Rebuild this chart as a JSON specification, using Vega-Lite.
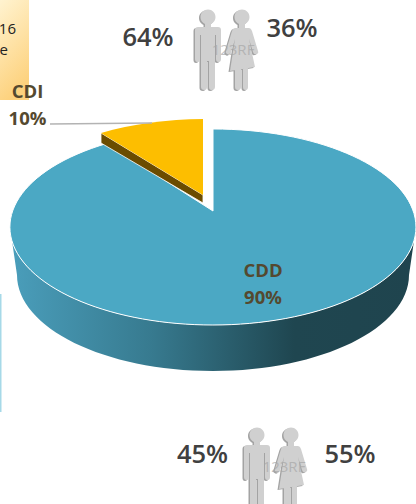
{
"$schema":"https://vega.github.io/schema/vega-lite/v6.json",
"width":416,"height":504,"padding":0,"autosize":{"type":"none"},"background":"white",
"config":{"view":{"stroke":null},"axis":{"disable":true},"text":{"font":"Open Sans"}},
"datasets":{
"slices":[{"name":"CDD","value":90,"share":"90%"},{"name":"CDI","value":10,"share":"10%"}],
"people":[
{"group":"top","sex":"male","value":64,"share":"64%"},
{"group":"top","sex":"female","value":36,"share":"36%"},
{"group":"bottom","sex":"male","value":45,"share":"45%"},
{"group":"bottom","sex":"female","value":55,"share":"55%"}],
"marks":[{"group":"top","text":"123RF"},{"group":"bottom","text":"123RF"}],
"boxes":[{"item":"panel"},{"item":"bar"}],
"clipped":[{"item":"line1","text":"16"},{"item":"line2","text":"e"}]
},
"resolve":{"scale":{"x":"independent","y":"independent"}},
"layer":[
{"data":{"name":"boxes"},"transform":[{"filter":"datum.item==='panel'"}],
 "mark":{"type":"point","filled":true,"opacity":1,"size":4,"shape":"M0,0H29V100H0Z","fill":{"gradient":"linear","x1":0,"y1":0,"x2":0.3,"y2":1,"stops":[{"offset":0,"color":"#fff3d0"},{"offset":1,"color":"#fdd27e"}]}},
 "encoding":{"x":{"field":"item","type":"nominal","axis":null,"scale":{"type":"point","padding":0,"domain":["panel","bar"],"range":[0,0]}},"y":{"field":"item","type":"nominal","axis":null,"scale":{"type":"point","padding":0,"domain":["panel","bar"],"range":[0,294]}}}},
{"data":{"name":"boxes"},"transform":[{"filter":"datum.item==='bar'"}],
 "mark":{"type":"point","filled":true,"opacity":1,"size":4,"shape":"M0,0H1.5V118H0Z","fill":"#a6d9e8"},
 "encoding":{"x":{"field":"item","type":"nominal","axis":null,"scale":{"type":"point","padding":0,"domain":["panel","bar"],"range":[0,0]}},"y":{"field":"item","type":"nominal","axis":null,"scale":{"type":"point","padding":0,"domain":["panel","bar"],"range":[0,294]}}}},
{"data":{"name":"clipped"},
 "mark":{"type":"text","align":"right","baseline":"middle","fontSize":15,"color":"#222222"},
 "encoding":{"text":{"field":"text"},"x":{"field":"item","type":"nominal","axis":null,"scale":{"type":"point","padding":0,"domain":["line1","line2"],"range":[16,8]}},"y":{"field":"item","type":"nominal","axis":null,"scale":{"type":"point","padding":0,"domain":["line1","line2"],"range":[29,50]}}}},
{"data":{"name":"slices"},"transform":[{"filter":"datum.name==='CDD'"}],
 "mark":{"type":"point","filled":true,"opacity":1,"size":4,"shape":"M-203,16 L-196,64 A196,96 0 0 0 196,64 L203,16 A203,98 0 0 1 -203,16 Z","fill":{"gradient":"linear","x1":0,"y1":0,"x2":1,"y2":0,"stops":[{"offset":0,"color":"#4a9ebb"},{"offset":0.35,"color":"#377a8f"},{"offset":0.7,"color":"#1f4650"},{"offset":1,"color":"#1f444e"}]}},
 "encoding":{"x":{"field":"value","type":"quantitative","axis":null,"scale":{"domain":[10,90],"range":[203,213],"zero":false,"nice":false}},"y":{"field":"value","type":"quantitative","axis":null,"scale":{"domain":[10,90],"range":[195,211],"zero":false,"nice":false}}}},
{"data":{"name":"slices"},"transform":[{"filter":"datum.name==='CDD'"}],
 "mark":{"type":"point","filled":true,"opacity":1,"size":4,"shape":"M0,0 L0,-82 A203,98 0 1 1 -106,-67.6 Z","fill":"#4ba8c4","stroke":"white","strokeWidth":1,"strokeOpacity":1},
 "encoding":{"x":{"field":"value","type":"quantitative","axis":null,"scale":{"domain":[10,90],"range":[203,213],"zero":false,"nice":false}},"y":{"field":"value","type":"quantitative","axis":null,"scale":{"domain":[10,90],"range":[195,211],"zero":false,"nice":false}}}},
{"data":{"name":"slices"},"transform":[{"filter":"datum.name==='CDI'"}],
 "mark":{"type":"point","filled":true,"opacity":1,"size":4,"shape":"M0,0 L-102,-62 L-102,-52 L0,8 Z","fill":"#6b4c00","stroke":"white","strokeWidth":0.8,"strokeOpacity":1},
 "encoding":{"x":{"field":"value","type":"quantitative","axis":null,"scale":{"domain":[10,90],"range":[203,213],"zero":false,"nice":false}},"y":{"field":"value","type":"quantitative","axis":null,"scale":{"domain":[10,90],"range":[195,211],"zero":false,"nice":false}}}},
{"data":{"name":"slices"},"transform":[{"filter":"datum.name==='CDI'"}],
 "mark":{"type":"point","filled":true,"opacity":1,"size":4,"shape":"M0,0 L-102,-62 A204,98 0 0 1 0,-76 Z","fill":"#fdbe00"},
 "encoding":{"x":{"field":"value","type":"quantitative","axis":null,"scale":{"domain":[10,90],"range":[203,213],"zero":false,"nice":false}},"y":{"field":"value","type":"quantitative","axis":null,"scale":{"domain":[10,90],"range":[195,211],"zero":false,"nice":false}}}},
{"data":{"name":"slices"},"transform":[{"filter":"datum.name==='CDI'"}],
 "mark":{"type":"point","filled":false,"opacity":1,"size":4,"shape":"M-153,-71 L-51,-72","stroke":"#b3b3b3","strokeWidth":1.5},
 "encoding":{"x":{"field":"value","type":"quantitative","axis":null,"scale":{"domain":[10,90],"range":[203,213],"zero":false,"nice":false}},"y":{"field":"value","type":"quantitative","axis":null,"scale":{"domain":[10,90],"range":[195,211],"zero":false,"nice":false}}}},
{"data":{"name":"slices"},
 "mark":{"type":"text","align":"center","baseline":"middle","fontSize":18.5,"fontWeight":"bold","color":"#54492f"},
 "encoding":{"text":{"field":"name"},"x":{"field":"value","type":"quantitative","axis":null,"scale":{"domain":[10,90],"range":[27.5,263],"zero":false,"nice":false}},"y":{"field":"value","type":"quantitative","axis":null,"scale":{"domain":[10,90],"range":[92,271],"zero":false,"nice":false}}}},
{"data":{"name":"slices"},
 "mark":{"type":"text","align":"center","baseline":"middle","fontSize":18.5,"fontWeight":"bold","color":"#54492f"},
 "encoding":{"text":{"field":"share"},"x":{"field":"value","type":"quantitative","axis":null,"scale":{"domain":[10,90],"range":[27.5,263],"zero":false,"nice":false}},"y":{"field":"value","type":"quantitative","axis":null,"scale":{"domain":[10,90],"range":[119,298],"zero":false,"nice":false}}}},
{"data":{"name":"people"},"transform":[{"filter":"datum.sex==='male'"}],
 "mark":{"type":"point","filled":true,"opacity":1,"size":4,"xOffset":-1.5,"yOffset":1,"shape":"M-3,5 L3,5 L3,10 L10,10 Q13,10 13,13 L13,42 Q13,45 10.5,45 Q8,45 8,42 L8,18 L7,18 L7,70 Q7,73 3.5,73 Q1,73 1,70 L1,44 L-1,44 L-1,70 Q-1,73 -3.5,73 Q-7,73 -7,70 L-7,18 L-8,18 L-8,42 Q-8,45 -10.5,45 Q-13,45 -13,42 L-13,13 Q-13,10 -10,10 L-3,10 Z M-7.5,0 A7.5,7.5 0 1 1 7.5,0 A7.5,7.5 0 1 1 -7.5,0 Z","fill":"#a3a3a3"},
 "encoding":{"x":{"field":"value","type":"quantitative","axis":null,"scale":{"domain":[36,45,55,64],"range":[242,257,291,208],"zero":false,"nice":false}},"y":{"field":"value","type":"quantitative","axis":null,"scale":{"domain":[36,45,55,64],"range":[17,435,435,17],"zero":false,"nice":false}}}},
{"data":{"name":"people"},"transform":[{"filter":"datum.sex==='male'"}],
 "mark":{"type":"point","filled":true,"opacity":1,"size":4,"shape":"M-3,5 L3,5 L3,10 L10,10 Q13,10 13,13 L13,42 Q13,45 10.5,45 Q8,45 8,42 L8,18 L7,18 L7,70 Q7,73 3.5,73 Q1,73 1,70 L1,44 L-1,44 L-1,70 Q-1,73 -3.5,73 Q-7,73 -7,70 L-7,18 L-8,18 L-8,42 Q-8,45 -10.5,45 Q-13,45 -13,42 L-13,13 Q-13,10 -10,10 L-3,10 Z M-7.5,0 A7.5,7.5 0 1 1 7.5,0 A7.5,7.5 0 1 1 -7.5,0 Z","fill":"#d0d0d0"},
 "encoding":{"x":{"field":"value","type":"quantitative","axis":null,"scale":{"domain":[36,45,55,64],"range":[242,257,291,208],"zero":false,"nice":false}},"y":{"field":"value","type":"quantitative","axis":null,"scale":{"domain":[36,45,55,64],"range":[17,435,435,17],"zero":false,"nice":false}}}},
{"data":{"name":"people"},"transform":[{"filter":"datum.sex==='female'"}],
 "mark":{"type":"point","filled":true,"opacity":1,"size":4,"xOffset":-1.5,"yOffset":1,"shape":"M-3,5 L3,5 L3,11 L7,11 Q9,11 10,14 L16,34 Q17,37 14,37 Q12,38 11,35 L7,22 L13,50 L-12,54 L-7,22 L-11,36 Q-13,39 -15,37 Q-17,36 -16,34 L-10,14 Q-9,11 -7,11 L-3,11 Z M-7,53 L-1,52 L-1,70 Q-1,73 -4,73 Q-7,73 -7,70 Z M1,52 L6,51 L6,70 Q6,73 3.5,73 Q1,73 1,70 Z M-7.5,0 A7.5,7.5 0 1 1 7.5,0 A7.5,7.5 0 1 1 -7.5,0 Z","fill":"#a3a3a3"},
 "encoding":{"x":{"field":"value","type":"quantitative","axis":null,"scale":{"domain":[36,45,55,64],"range":[242,257,291,208],"zero":false,"nice":false}},"y":{"field":"value","type":"quantitative","axis":null,"scale":{"domain":[36,45,55,64],"range":[17,435,435,17],"zero":false,"nice":false}}}},
{"data":{"name":"people"},"transform":[{"filter":"datum.sex==='female'"}],
 "mark":{"type":"point","filled":true,"opacity":1,"size":4,"shape":"M-3,5 L3,5 L3,11 L7,11 Q9,11 10,14 L16,34 Q17,37 14,37 Q12,38 11,35 L7,22 L13,50 L-12,54 L-7,22 L-11,36 Q-13,39 -15,37 Q-17,36 -16,34 L-10,14 Q-9,11 -7,11 L-3,11 Z M-7,53 L-1,52 L-1,70 Q-1,73 -4,73 Q-7,73 -7,70 Z M1,52 L6,51 L6,70 Q6,73 3.5,73 Q1,73 1,70 Z M-7.5,0 A7.5,7.5 0 1 1 7.5,0 A7.5,7.5 0 1 1 -7.5,0 Z","fill":"#d0d0d0"},
 "encoding":{"x":{"field":"value","type":"quantitative","axis":null,"scale":{"domain":[36,45,55,64],"range":[242,257,291,208],"zero":false,"nice":false}},"y":{"field":"value","type":"quantitative","axis":null,"scale":{"domain":[36,45,55,64],"range":[17,435,435,17],"zero":false,"nice":false}}}},
{"data":{"name":"marks"},
 "mark":{"type":"text","align":"center","baseline":"middle","fontSize":15,"color":"#a8a8a8","opacity":0.7},
 "encoding":{"text":{"field":"text"},"x":{"field":"group","type":"nominal","axis":null,"scale":{"type":"point","padding":0,"domain":["top","bottom"],"range":[233,284]}},"y":{"field":"group","type":"nominal","axis":null,"scale":{"type":"point","padding":0,"domain":["top","bottom"],"range":[50,467]}}}},
{"data":{"name":"people"},
 "mark":{"type":"text","align":"center","baseline":"middle","fontSize":25.5,"fontWeight":600,"color":"#404040"},
 "encoding":{"text":{"field":"share"},"x":{"field":"value","type":"quantitative","axis":null,"scale":{"domain":[36,45,55,64],"range":[292,202.5,350,148],"zero":false,"nice":false}},"y":{"field":"value","type":"quantitative","axis":null,"scale":{"domain":[36,45,55,64],"range":[28.5,455,455,38],"zero":false,"nice":false}}}}
]
}
